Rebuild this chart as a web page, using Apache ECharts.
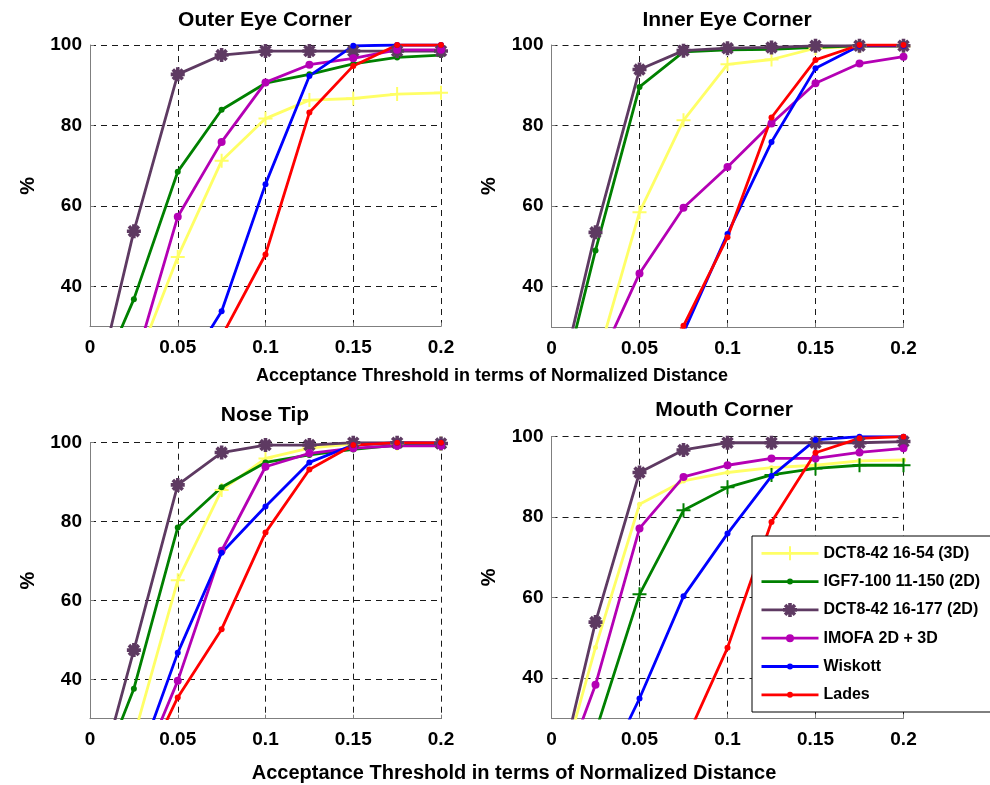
<!DOCTYPE html>
<html>
<head>
<meta charset="utf-8">
<script src="https://cdn.jsdelivr.net/npm/echarts@6/dist/echarts.min.js"></script>
<style>
  html, body { margin: 0; padding: 0; background: #fff; }
  #chart { width: 990px; height: 785px; }
</style>
</head>
<body>
<div id="chart"></div>
<script>
// Acceptance thresholds (normalized distance) and axis ticks
const thresholds = [0, 0.025, 0.05, 0.075, 0.1, 0.125, 0.15, 0.175, 0.2];
const xTicks = [0, 0.05, 0.1, 0.15, 0.2];
const yTicks = [40, 60, 80, 100];
const methodNames = ['DCT8-42 16-54 (3D)', 'IGF7-100 11-150 (2D)', 'DCT8-42 16-177 (2D)', 'IMOFA 2D + 3D', 'Wiskott', 'Lades'];
const panelTitles = ['Outer Eye Corner', 'Inner Eye Corner', 'Nose Tip', 'Mouth Corner'];
const xAxisTitle = 'Acceptance Threshold in terms of Normalized Distance';

// Outer eye corner detection rate (%)
const outerDct3d   = [0, 19.2, 47.3, 71.2, 81.7, 86.3, 86.7, 87.8, 88.1];
const outerIgf2d   = [11.5, 36.8, 68.5, 83.9, 90.5, 92.7, 95.3, 96.9, 97.5];
const outerDct2d   = [7.8, 53.7, 92.7, 97.5, 98.5, 98.5, 98.5, 98.5, 98.5];
const outerImofa   = [0, 20, 57.3, 75.9, 90.7, 95.1, 96.7, 98.8, 98.8];
const outerWiskott = [0, 5, 16.2, 33.8, 65.4, 92.3, 99.8, 100, 100];
const outerLades   = [0, 0, 10, 27.5, 47.9, 83.2, 94.8, 100, 100];

// Inner eye corner
const innerDct3d   = [0, 20.4, 58.5, 81.3, 95.2, 96.4, 99.2, 99.6, 99.6];
const innerIgf2d   = [5, 49.0, 89.6, 98.3, 98.8, 98.9, 99.4, 99.8, 99.8];
const innerDct2d   = [7.2, 53.5, 93.9, 98.6, 99.2, 99.4, 99.8, 99.8, 99.8];
const innerImofa   = [0, 19.5, 43.3, 59.6, 69.7, 80.5, 90.5, 95.4, 97.1];
const innerWiskott = [0, 5, 15, 28.6, 53.1, 75.9, 94.2, 99.8, 99.8];
const innerLades   = [0, 5, 15, 30.3, 52.3, 82.0, 96.3, 100, 100];

// Nose tip
const noseDct3d   = [0, 25.4, 65.1, 88.0, 96.0, 98.6, 99.7, 99.8, 99.8];
const noseIgf2d   = [9.2, 37.6, 78.5, 88.7, 95.0, 96.9, 98.3, 99.4, 99.4];
const noseDct2d   = [6.4, 47.4, 89.3, 97.5, 99.4, 99.4, 100, 100, 99.8];
const noseImofa   = [0, 12.9, 39.6, 72.6, 93.9, 97.3, 98.6, 99.2, 99.2];
const noseWiskott = [0, 15.8, 46.7, 72.1, 83.8, 95.0, 99.4, 100, 100];
const noseLades   = [0, 12.1, 35.4, 52.7, 77.2, 93.2, 99.4, 100, 100];

// Mouth corner
const mouthDct3d   = [8.3, 47.6, 83.2, 89.0, 91.1, 92.3, 92.9, 94.0, 94.2];
const mouthIgf2d   = [0, 26.6, 60.8, 81.7, 87.4, 90.5, 92.1, 92.9, 92.9];
const mouthDct2d   = [7.9, 53.9, 91.1, 96.7, 98.5, 98.5, 98.5, 98.5, 98.8];
const mouthImofa   = [8.7, 38.3, 77.2, 90.0, 92.9, 94.6, 94.6, 96.1, 97.1];
const mouthWiskott = [0, 12.2, 34.9, 60.3, 75.9, 90.2, 99.2, 100, 100];
const mouthLades   = [0, 5, 15, 23.3, 47.5, 78.8, 96.0, 99.6, 100];

const panelData = [
  [outerDct3d, outerIgf2d, outerDct2d, outerImofa, outerWiskott, outerLades],
  [innerDct3d, innerIgf2d, innerDct2d, innerImofa, innerWiskott, innerLades],
  [noseDct3d, noseIgf2d, noseDct2d, noseImofa, noseWiskott, noseLades],
  [mouthDct3d, mouthIgf2d, mouthDct2d, mouthImofa, mouthWiskott, mouthLades]
];

// ---- styling ----
const FONT = '"Liberation Sans", Arial, sans-serif';
const colors = ['#ffff66', '#008000', '#5e3a62', '#b400b4', '#0000ff', '#ff0000'];

const plusPath = 'M-1,-7H1V-1H7V1H1V7H-1V1H-7V-1H-1Z';
function asteriskPath(r, w) {
  let d = '';
  [0, 45, 90, 135].forEach(a => {
    const t = a * Math.PI / 180, c = Math.cos(t), s = Math.sin(t);
    const pts = [[-r, -w / 2], [r, -w / 2], [r, w / 2], [-r, w / 2]]
      .map(([x, y]) => [(x * c - y * s).toFixed(3), (x * s + y * c).toFixed(3)]);
    d += 'M' + pts.map(p => p.join(',')).join('L') + 'Z';
  });
  // solid hub in the middle
  d += 'M-3.2,-3.2H3.2V3.2H-3.2Z';
  return d;
}
const starPath = asteriskPath(7, 3.6);

function circlePath(cx, cy, r) {
  return 'M' + (cx + r) + ',' + cy + 'A' + r + ',' + r + ' 0 1,1 ' + (cx - r) + ',' + cy +
         'A' + r + ',' + r + ' 0 1,1 ' + (cx + r) + ',' + cy + 'Z';
}
function shiftPath(d, dx, dy) {
  // shift absolute coordinates of a simple M/L/H/V path
  return d.replace(/([MLHV])([^MLHVZ]+)/g, (m, cmd, args) => {
    const nums = args.split(/[ ,]+/).filter(Boolean).map(Number);
    if (cmd === 'H') return 'H' + (nums[0] + dx);
    if (cmd === 'V') return 'V' + (nums[0] + dy);
    return cmd + (nums[0] + dx).toFixed(3) + ',' + (nums[1] + dy).toFixed(3);
  });
}
// legend glyph: line segment with the marker in its middle, in a 57 x 14 box
function legendGlyph(marker) {
  return 'path://M0,0L0,0M57,14L57,14M0,5.6H57V8.4H0Z' + marker;
}
const legendMarkers = [
  shiftPath(plusPath, 28.5, 7),
  circlePath(28.5, 7, 3),
  shiftPath(starPath, 28.5, 7),
  circlePath(28.5, 7, 4),
  circlePath(28.5, 7, 3),
  circlePath(28.5, 7, 3)
];

function markerFor(panel, m) {
  if (panel === 3 && m === 0) return { symbol: 'circle', size: 5 };
  if (panel === 3 && m === 1) return { symbol: 'path://' + plusPath, size: 14 };
  switch (m) {
    case 0: return { symbol: 'path://' + plusPath, size: 14 };
    case 2: return { symbol: 'path://' + starPath, size: 14 };
    case 3: return { symbol: 'circle', size: 8 };
    default: return { symbol: 'circle', size: 6 };
  }
}

const grids = [
  { left: 90, top: 45, width: 351, height: 281.5 },
  { left: 551.5, top: 45, width: 352, height: 282 },
  { left: 90, top: 442.7, width: 351, height: 276 },
  { left: 551.5, top: 436.7, width: 352, height: 281.5 }
];

const axisGray = '#7f7f7f';
const gridLine = { show: true, lineStyle: { color: '#1a1a1a', type: [6, 5], width: 1 } };

const xAxes = grids.map((g, i) => ({
  type: 'value', gridIndex: i, min: 0, max: 0.2, interval: 0.05,
  axisLine: { show: true, lineStyle: { color: axisGray, width: 1 } },
  axisTick: { show: true, inside: true, length: 4, lineStyle: { color: axisGray } },
  axisLabel: {
    margin: 12, color: '#000', fontFamily: FONT, fontWeight: 'bold', fontSize: 19,
    formatter: v => String(Math.round(v * 1000) / 1000),
    customValues: xTicks
  },
  splitLine: gridLine
}));

const yAxes = grids.map((g, i) => ({
  type: 'value', gridIndex: i, min: 30, max: 100,
  name: '%', nameLocation: 'middle', nameRotate: 90, nameGap: 52,
  nameTextStyle: { color: '#000', fontFamily: FONT, fontWeight: 'bold', fontSize: 20 },
  axisLine: { show: true, lineStyle: { color: axisGray, width: 1 } },
  axisTick: { show: true, inside: true, length: 4, lineStyle: { color: axisGray }, customValues: yTicks },
  axisLabel: { margin: 8, color: '#000', fontFamily: FONT, fontWeight: 'bold', fontSize: 19, customValues: yTicks },
  splitLine: gridLine
}));

const series = [];
panelData.forEach((rows, p) => {
  rows.forEach((vals, m) => {
    const mk = markerFor(p, m);
    series.push({
      type: 'line', name: methodNames[m], xAxisIndex: p, yAxisIndex: p,
      data: thresholds.map((t, k) => [t, vals[k]]),
      symbol: mk.symbol, symbolSize: mk.size, showSymbol: true, showAllSymbol: true,
      clip: true, silent: true,
      lineStyle: { color: colors[m], width: 2.8 },
      itemStyle: { color: colors[m], borderWidth: 0 },
      emphasis: { disabled: true }
    });
  });
});

const titleTexts = [
  { text: panelTitles[0], x: 265, y: 20 },
  { text: panelTitles[1], x: 727, y: 20 },
  { text: panelTitles[2], x: 265, y: 415 },
  { text: panelTitles[3], x: 724, y: 410 }
].map(t => ({
  type: 'text', x: t.x, y: t.y, z: 10,
  style: { text: t.text, align: 'center', verticalAlign: 'middle', fill: '#000',
           font: 'bold 21px ' + FONT }
}));

const axisTitleTexts = [
  { x: 492, y: 376, size: 18 },
  { x: 514, y: 773, size: 20 }
].map(t => ({
  type: 'text', x: t.x, y: t.y, z: 10,
  style: { text: xAxisTitle, align: 'center', verticalAlign: 'middle', fill: '#000',
           font: 'bold ' + t.size + 'px ' + FONT }
}));

const chart = echarts.init(document.getElementById('chart'), null, { renderer: 'canvas' });
chart.setOption({
  animation: false,
  backgroundColor: '#fff',
  grid: grids.map(g => Object.assign({ containLabel: false }, g)),
  xAxis: xAxes,
  yAxis: yAxes,
  series: series,
  legend: {
    orient: 'vertical', left: 761.5, top: 545.3, z: 120,
    itemWidth: 57, itemHeight: 14, itemGap: 12.3, padding: 0,
    itemStyle: { borderWidth: 0 },
    selectedMode: false,
    textStyle: { color: '#000', fontFamily: FONT, fontWeight: 'bold', fontSize: 16 },
    data: methodNames.map((n, i) => ({ name: n, icon: legendGlyph(legendMarkers[i]) }))
  },
  graphic: [
    { type: 'rect', z: 110, shape: { x: 752, y: 536, width: 260, height: 176 },
      style: { fill: '#fff', stroke: '#000', lineWidth: 1 } }
  ].concat(titleTexts, axisTitleTexts)
});
</script>
</body>
</html>
